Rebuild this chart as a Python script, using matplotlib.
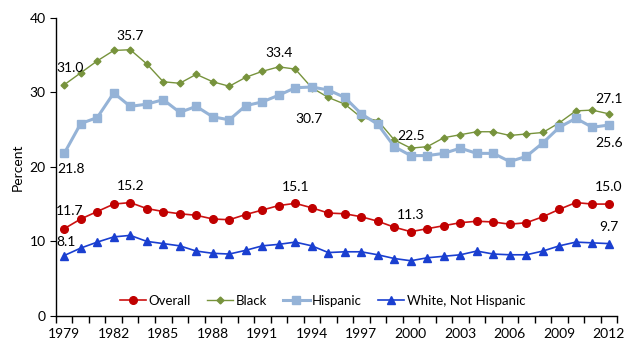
import matplotlib
matplotlib.use("Agg")
import matplotlib.pyplot as plt
import numpy as np

plt.rcParams['font.family'] = ['Lato', 'DejaVu Sans']

years = list(range(1979, 2013))
overall = [11.7, 13.0, 14.0, 15.0, 15.2, 14.4, 14.0, 13.7, 13.5, 13.0, 12.9, 13.6, 14.2, 14.8, 15.1, 14.5,
           13.8, 13.7, 13.3, 12.7, 11.9, 11.3, 11.7, 12.1, 12.5, 12.7, 12.6, 12.3, 12.5, 13.3, 14.3, 15.2, 15.0, 15.0]
black = [31.0, 32.6, 34.2, 35.6, 35.7, 33.8, 31.4, 31.2, 32.4, 31.4, 30.8, 32.0, 32.8, 33.4, 33.1, 30.6,
         29.3, 28.4, 26.6, 26.2, 23.6, 22.5, 22.7, 23.9, 24.3, 24.7, 24.7, 24.2, 24.4, 24.6, 25.9, 27.5, 27.6, 27.1]
hispanic = [21.8, 25.8, 26.6, 29.9, 28.1, 28.4, 29.0, 27.3, 28.1, 26.7, 26.3, 28.2, 28.7, 29.6, 30.6, 30.7,
            30.3, 29.3, 27.1, 25.7, 22.7, 21.5, 21.5, 21.8, 22.5, 21.8, 21.8, 20.7, 21.4, 23.2, 25.3, 26.5, 25.3, 25.6]
white = [8.1, 9.1, 9.9, 10.6, 10.8, 10.0, 9.7, 9.4, 8.7, 8.4, 8.3, 8.8, 9.4, 9.6, 9.9, 9.4,
         8.5, 8.6, 8.6, 8.2, 7.7, 7.4, 7.8, 8.0, 8.2, 8.7, 8.3, 8.2, 8.2, 8.7, 9.4, 9.9, 9.8, 9.7]
year_labels = [str(y) for y in range(1979, 2013, 3)]

fig = plt.figure(figsize=(6.42, 3.53), dpi=100)
ax = fig.add_axes([0.0872, 0.105, 0.874, 0.845])

x = np.arange(len(years))
ax.plot(x, overall, color='#CC1111', lw=1.2, marker='o', ms=5.5, mec='#C00000', mfc='#C00000', label='Overall')
ax.plot(x, black, color='#77933C', lw=1.0, marker='D', ms=3.5, mec='#77933C', mfc='#77933C', label='Black')
ax.plot(x, hispanic, color='#95B3D7', lw=2.2, marker='s', ms=6, mec='#95B3D7', mfc='#95B3D7', label='Hispanic')
ax.plot(x, white, color='#1A3FD0', lw=1.2, marker='^', ms=5.5, mec='#1A3FD0', mfc='#1A3FD0', label='White, Not Hispanic')

ax.set_xlim(-0.5, len(years) - 0.5)
ax.set_ylim(0, 40)
ax.set_yticks([0, 10, 20, 30, 40])
ax.set_xticks(np.arange(-0.5, len(years), 1.0))
ax.set_xticklabels([])
ax.set_xticks([years.index(int(y)) for y in year_labels], minor=True)
ax.set_xticklabels(year_labels, minor=True)
ax.tick_params(axis='x', which='major', length=5, direction='out', width=1)
ax.tick_params(axis='x', which='minor', length=0, pad=9, labelsize=10)
ax.tick_params(axis='y', length=4, direction='out', labelsize=10)
for s in ['top', 'right']:
    ax.spines[s].set_visible(False)
ax.spines['left'].set_linewidth(1.0)
ax.spines['bottom'].set_linewidth(1.0)
ax.set_ylabel('Percent', fontsize=10)

def lab(series, year, dx, dy):
    i = years.index(year)
    ax.annotate(f"{series[i]:.1f}", (i, series[i]), xytext=(dx, dy), textcoords='offset points',
                ha='center', va='center', fontsize=10)

lab(overall, 1979, 4, 13)
lab(overall, 1983, 0, 12)
lab(overall, 1993, 0, 12)
lab(overall, 2000, 0, 12)
lab(overall, 2012, 0, 12)
lab(white, 1979, 1, 10)
lab(white, 2012, 0, 12)
lab(black, 1979, 4, 12)
lab(black, 1983, 0, 10)
lab(black, 1992, 0, 10)
lab(black, 2000, 0, 9)
lab(black, 2012, 0, 11)
lab(hispanic, 1979, 5, -11)
lab(hispanic, 1994, -2, -23)
lab(hispanic, 2012, 0, -13)

ax.legend(loc='lower center', bbox_to_anchor=(0.475, -0.01), ncol=4, frameon=False, fontsize=9.5,
          handlelength=2.0, columnspacing=1.2, handletextpad=0.2)

fig.savefig('out.png', dpi=100)
